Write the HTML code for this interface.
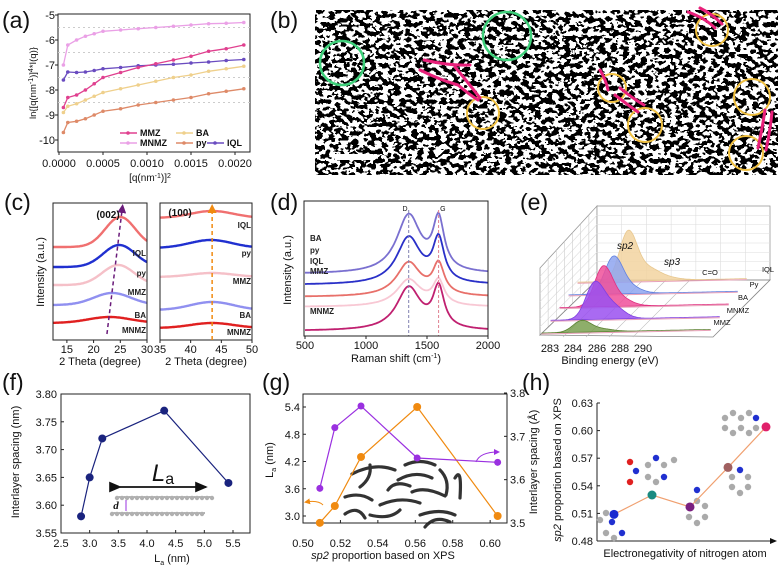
<!DOCTYPE html>
<html><head><meta charset="utf-8">
<style>
html,body{margin:0;padding:0;background:#fff;}
svg{display:block;font-family:"Liberation Sans",Arial,sans-serif;}
.tk{fill:#111;}
.tt{fill:#111;}
.pl{fill:#111;}
.lb{font-weight:bold;fill:#222;}
</style></head>
<body>
<svg id="fig" width="784" height="570" viewBox="0 0 784 570" xmlns="http://www.w3.org/2000/svg">
<defs>
<filter id="tex" x="0" y="0" width="100%" height="100%">
<feTurbulence type="fractalNoise" baseFrequency="0.17 0.22" numOctaves="2" seed="7"/>
<feColorMatrix type="matrix" values="1 0 0 0 0 1 0 0 0 0 1 0 0 0 0 0 0 0 0 1"/>
<feComponentTransfer><feFuncR type="discrete" tableValues="0 1"/><feFuncG type="discrete" tableValues="0 1"/><feFuncB type="discrete" tableValues="0 1"/><feFuncA type="table" tableValues="1 1"/></feComponentTransfer>
</filter>
<marker id="arrK" markerWidth="8" markerHeight="8" refX="6" refY="4" orient="auto"><path d="M0,1 L7,4 L0,7 z" fill="#111"/></marker>
<marker id="arrP" markerWidth="6" markerHeight="6" refX="4" refY="3" orient="auto"><path d="M0,0 L6,3 L0,6 z" fill="#6a1b7a"/></marker>
<marker id="arrO" markerWidth="6" markerHeight="6" refX="4" refY="3" orient="auto"><path d="M0,0 L6,3 L0,6 z" fill="#f08a10"/></marker>
<marker id="arrV" markerWidth="6" markerHeight="6" refX="4" refY="3" orient="auto"><path d="M0,0 L6,3 L0,6 z" fill="#9a30e0"/></marker>
</defs>

<g font-size="23">
<text class="pl" x="2" y="28">(a)</text>
<text class="pl" x="270" y="28">(b)</text>
<text class="pl" x="4" y="210">(c)</text>
<text class="pl" x="270" y="210">(d)</text>
<text class="pl" x="520" y="210">(e)</text>
<text class="pl" x="2" y="390">(f)</text>
<text class="pl" x="262" y="390">(g)</text>
<text class="pl" x="522" y="390">(h)</text>
</g>

<g id="pb">
<rect x="315" y="10" width="463" height="165" filter="url(#tex)"/>
<rect x="335" y="154" width="38" height="6" fill="#fff"/>
<circle cx="342" cy="63" r="22" fill="none" stroke="#3ecf7a" stroke-width="2.5"/>
<circle cx="507" cy="36" r="24" fill="none" stroke="#3ecf7a" stroke-width="2.5"/>
<g fill="none" stroke="#f0c040" stroke-width="2">
<circle cx="483" cy="113" r="16"/><circle cx="612" cy="88" r="14"/><circle cx="712" cy="30" r="16"/><circle cx="645" cy="125" r="17"/><circle cx="752" cy="97" r="18"/><circle cx="746" cy="153" r="17"/>
</g>
<g fill="none" stroke="#e8207a" stroke-width="3" stroke-linecap="round">
<path d="M424,60 Q450,66 470,65"/><path d="M420,70 Q440,80 458,85 Q470,95 478,100"/><path d="M455,67 Q466,80 480,98"/>
<path d="M688,12 Q705,18 715,28"/><path d="M700,8 Q712,14 722,24"/>
<path d="M600,70 Q606,80 608,90"/><path d="M615,95 Q628,105 638,112"/><path d="M620,88 Q632,98 644,105"/>
<path d="M765,110 Q762,130 758,148"/><path d="M772,112 Q770,132 766,150"/>
</g>
</g>

<g id="pa"></g>
<g id="pc"></g>
<g id="pd"></g>
<g id="pe"></g>
<g id="pf"></g>
<g id="pg"></g>
<g id="ph"></g>
</svg>

<script>
// ---------- DATA ----------
const aX = [0.00005,0.0001,0.0002,0.0003,0.0004,0.0005,0.0007,0.0009,0.0011,0.0013,0.0015,0.0017,0.0019,0.0021];
const aMNMZ = [-7.0,-6.2,-6.0,-5.85,-5.75,-5.65,-5.6,-5.55,-5.5,-5.45,-5.4,-5.35,-5.33,-5.3];
const aMMZ = [-8.7,-8.3,-8.2,-8.0,-7.75,-7.5,-7.3,-7.1,-6.95,-6.8,-6.65,-6.45,-6.35,-6.2];
const aIQL = [-7.6,-7.28,-7.3,-7.28,-7.22,-7.15,-7.1,-7.03,-7.0,-6.97,-6.92,-6.88,-6.82,-6.78];
const aBA = [-8.9,-8.65,-8.55,-8.4,-8.25,-8.1,-7.95,-7.8,-7.65,-7.5,-7.4,-7.25,-7.15,-7.05];
const aPy = [-9.7,-9.3,-9.25,-9.15,-9.0,-8.85,-8.75,-8.6,-8.5,-8.4,-8.3,-8.15,-8.05,-7.95];
const aYTicks = [-5,-6,-7,-8,-9,-10];
const aXTicks = [0,0.0005,0.001,0.0015,0.002];
const aXTickLabels = ["0.0000","0.0005","0.0010","0.0015","0.0020"];
const cNames = ["IQL","py","MMZ","BA","MNMZ"];
const c002Base = [93,73,55,35,17];
const c002Amp = [30,22,20,12,6];
const c002Ctr = [25.0,24.8,24.6,23.5,23.0];
const c002Wid = [2.8,3.0,3.0,3.5,4.0];
const c100Base = [122,92,63,30,12];
const c100Amp = [7,8,4,8,5];
const c100Ctr = [43.5,43.3,43.5,43.5,43.5];
const cLeftTicks = [15,20,25,30];
const cRightTicks = [35,40,45,50];
const dNames = ["BA","py","IQL","MMZ","MNMZ"];
const dBase = [62,51,39,29,5];
const dD = [58,47,34,27,43];
const dG = [50,42,30,24,40];
const dXTicks = [500,1000,1500,2000];
const eNames = ["MMZ","MNMZ","BA","Py","IQL"];
const eSp2E = [286.0,286.3,286.3,286.4,286.9];
const eSp2H = [11,32,37,34,48];
const eSp3E = [287.6,287.7,287.6,287.6,288.6];
const eSp3H = [3,15,9,8,12];
const fLa = [2.85,3.0,3.22,4.3,5.42];
const fD = [3.58,3.65,3.72,3.77,3.64];
const fXTicks = [2.5,3.0,3.5,4.0,4.5,5.0,5.5];
const fYTicks = [3.55,3.60,3.65,3.70,3.75,3.80];
const gSp2 = [0.509,0.517,0.531,0.561,0.604];
const gLa = [2.85,3.22,4.3,5.4,3.0];
const gD = [3.58,3.72,3.77,3.65,3.64];
const gXTicks = [0.50,0.52,0.54,0.56,0.58,0.60];
const gYTicks = [3.0,3.6,4.2,4.8,5.4];
const gY2Ticks = [3.5,3.6,3.7,3.8];
const hIdx = [0,1,2,3,4];
const hSp2 = [0.509,0.530,0.517,0.560,0.604];
const hYTicks = [0.48,0.51,0.54,0.57,0.60,0.63];

// ---------- HELPERS ----------
const NS="http://www.w3.org/2000/svg";
function mk(parent,tag,attrs){const e=document.createElementNS(NS,tag);for(const k in attrs)e.setAttribute(k,attrs[k]);parent.appendChild(e);return e;}
function lin(d0,d1,r0,r1){return v=>r0+(v-d0)*(r1-r0)/(d1-d0);}
function txt(p,x,y,s,cls,anchor,extra){
 const a={x:x,y:y,class:cls||'tk','text-anchor':anchor||'middle','font-size':(cls==='lb'?8:(cls==='tt'?11:11))};
 Object.assign(a,extra||{});
 const t=mk(p,'text',a);t.textContent=s;return t;}
function box(p,x0,y0,x1,y1){return mk(p,'rect',{x:x0,y:y0,width:x1-x0,height:y1-y0,fill:'none',stroke:'#222','stroke-width':1});}
function poly(pts){return pts.map((p,i)=>(i?'L':'M')+p[0].toFixed(1)+','+p[1].toFixed(1)).join(' ');}

// ---------- (a) ----------
(function(){
const g=document.getElementById('pa');
const X=lin(0,0.002,59,235), Y=lin(-5,-10,15,140);
box(g,58,14,250,152);
aYTicks.forEach(v=>{const t=txt(g,55,Y(v)+4,String(v),'tk','end');


mk(g,'line',{x1:58,x2:55,y1:Y(v),y2:Y(v),stroke:'#222'});
if(v>-10&&v<-5){mk(g,'line',{x1:58,x2:250,y1:Y(v+0.5),y2:Y(v+0.5),stroke:'#ccc','stroke-dasharray':'2,3'});}});
aXTicks.forEach((v,i)=>{const t=txt(g,X(v),167,aXTickLabels[i]);


mk(g,'line',{x1:X(v),x2:X(v),y1:152,y2:155,stroke:'#222'});});
const series=[["MNMZ",aMNMZ,"#eaa0e6"],["IQL",aIQL,"#6a4cc0"],["MMZ",aMMZ,"#e0408f"],["BA",aBA,"#efd08c"],["py",aPy,"#de8a68"]];
series.forEach(s=>{
 const p=mk(g,'path',{d:poly(aX.map((x,i)=>[X(x),Y(s[1][i])])),fill:'none',stroke:s[2],'stroke-width':1.3});
 
 
 aX.forEach((x,i)=>{const c=mk(g,'circle',{cx:X(x),cy:Y(s[1][i]),r:1.8,fill:s[2]});
 
 });
});
const leg=[["MMZ",120,136,"#e0408f"],["MNMZ",120,146,"#eaa0e6"],["BA",176,136,"#efd08c"],["py",176,146,"#de8a68"],["IQL",207,146,"#6a4cc0"]];
leg.forEach(l=>{mk(g,'line',{x1:l[1],x2:l[1]+17,y1:l[2]-3,y2:l[2]-3,stroke:l[3],'stroke-width':1.5});
 mk(g,'circle',{cx:l[1]+8,cy:l[2]-3,r:1.8,fill:l[3]});
 const t=txt(g,l[1]+20,l[2],l[0],'tk','start',{fill:l[3],'font-size':'9','font-weight':'bold'});
 
 });
const yt=txt(g,0,0,'','tt','middle',{transform:'translate(36,83) rotate(-90)','font-size':'9.5'});
yt.innerHTML='ln{[q(nm<tspan font-size="7" dy="-3">-1</tspan><tspan dy="3">)]</tspan><tspan font-size="7" dy="-3">4</tspan><tspan dy="3">*I(q)}</tspan>';


const xt=txt(g,150,181,'','tt','middle',{'font-size':'10'});
xt.innerHTML='[q(nm<tspan font-size="7" dy="-3">-1</tspan><tspan dy="3">)]</tspan><tspan font-size="7" dy="-3">2</tspan>';


})();

// ---------- (c) ----------
(function(){
const g=document.getElementById('pc');
const colors=["#f07070","#2030d0","#f5c0c8","#9090f0","#e02020"];
const XL=lin(12.4,30,53,147), XR=lin(35,50,160,252), Y=v=>340-v;
function curve(X,lo,hi,base,amp,c,w,col,name){
 const pts=[];for(let x=lo;x<=hi+1e-9;x+=(hi-lo)/120){pts.push([X(x),Y(base+amp*Math.exp(-((x-c)**2)/(2*w*w)))]);}
 const p=mk(g,'path',{d:poly(pts),fill:'none',stroke:col,'stroke-width':2.4});
 
 
}
cNames.forEach((n,i)=>{curve(XL,12.4,30,c002Base[i],c002Amp[i],c002Ctr[i],c002Wid[i],colors[i],n.toLowerCase()+'-002');
 curve(XR,35,50,c100Base[i],c100Amp[i],c100Ctr[i],3.5,colors[i],n.toLowerCase()+'-100');});
box(g,53,203,147,340);box(g,160,203,252,340);
cLeftTicks.forEach(v=>{txt(g,XL(v),353,String(v));mk(g,'line',{x1:XL(v),x2:XL(v),y1:340,y2:343,stroke:'#222'});});
cRightTicks.forEach(v=>{txt(g,XR(v),353,String(v));mk(g,'line',{x1:XR(v),x2:XR(v),y1:340,y2:343,stroke:'#222'});});
const lp=[[146,256],[146,276],[146,295],[146,318],[146,333]];
const rp=[[251,228],[251,256],[251,284],[251,318],[251,335]];
cNames.forEach((n,i)=>{const t=txt(g,lp[i][0],lp[i][1],n,'lb','end');
 
 
 const t2=txt(g,rp[i][0],rp[i][1],n,'lb','end');
 
 });
mk(g,'line',{x1:XL(22.5),y1:334,x2:XL(25.4),y2:207,stroke:'#6a1b7a','stroke-width':1.5,'stroke-dasharray':'4,3','marker-end':'url(#arrP)'});
mk(g,'line',{x1:XR(43.5),y1:340,x2:XR(43.5),y2:207,stroke:'#f08a10','stroke-width':1.5,'stroke-dasharray':'4,3','marker-end':'url(#arrO)'});
txt(g,108,218,'(002)','tk','middle',{'font-weight':'bold','font-size':'10'});
txt(g,180,216,'(100)','tk','middle',{'font-weight':'bold','font-size':'10'});
txt(g,0,0,'Intensity (a.u.)','tt','middle',{transform:'translate(44,272) rotate(-90)'});
txt(g,100,365,'2 Theta (degree)','tt');txt(g,206,365,'2 Theta (degree)','tt');
})();

// ---------- (d) ----------
(function(){
const g=document.getElementById('pd');
const colors=["#7a70d0","#2a30c8","#e8706a","#f8c8d4","#c02070"];
const X=lin(500,2000,305,488), Y=v=>336-v;
function L(x,c,w){return 1/(1+((x-c)/w)**2);}
dNames.forEach((n,i)=>{
 const pts=[];for(let x=500;x<=2000;x+=10){pts.push([X(x),Y(dBase[i]+dD[i]*L(x,1350,120)+dG[i]*L(x,1595,55))]);}
 const p=mk(g,'path',{d:poly(pts),fill:'none',stroke:colors[i],'stroke-width':1.8});
 
 
});
mk(g,'line',{x1:X(1350),x2:X(1350),y1:210,y2:336,stroke:'#8080b0','stroke-dasharray':'3,2'});
mk(g,'line',{x1:X(1595),x2:X(1595),y1:210,y2:336,stroke:'#e08090','stroke-dasharray':'3,2'});
txt(g,X(1320),211,'D','tk','middle',{'font-size':'7'});txt(g,X(1630),211,'G','tk','middle',{'font-size':'7'});
box(g,304,201,488,336);
dXTicks.forEach(v=>{txt(g,X(v),349,String(v));mk(g,'line',{x1:X(v),x2:X(v),y1:336,y2:339,stroke:'#222'});});
const ly=[241,253,264,274,314];
dNames.forEach((n,i)=>{const t=txt(g,310,ly[i],n,'lb','start');
 
 });
txt(g,0,0,'Intensity (a.u.)','tt','middle',{transform:'translate(291,270) rotate(-90)'});
const xt=txt(g,396,362,'','tt');xt.innerHTML='Raman shift (cm<tspan font-size="7" dy="-4">-1</tspan><tspan dy="4">)</tspan>';
})();

// ---------- (e) ----------
(function(){
const g=document.getElementById('pe');
mk(g,'path',{d:'M540,268 L597,206 L597,280 L540,335 Z',fill:'#fff',stroke:'#999','stroke-width':0.8});
mk(g,'rect',{x:597,y:206,width:173,height:74,fill:'#fff',stroke:'#999','stroke-width':0.8});
for(let i=1;i<8;i++){const y=206+i*74/8;mk(g,'line',{x1:597,x2:770,y1:y,y2:y,stroke:'#ddd','stroke-width':0.6});
 mk(g,'line',{x1:540,x2:597,y1:268+i*8.4,y2:206+i*74/8,stroke:'#ddd','stroke-width':0.6});}
for(let i=1;i<7;i++){const x=597+i*173/7;mk(g,'line',{x1:x,x2:x,y1:206,y2:280,stroke:'#ddd','stroke-width':0.6});
 const xl=540+i*57/7;mk(g,'line',{x1:xl,x2:xl,y1:268-i*62/7,y2:335-i*55/7,stroke:'#ccc','stroke-width':0.6});}
mk(g,'path',{d:'M540,335 L597,280 L770,280 L713,337 Z',fill:'none',stroke:'#888','stroke-width':0.8});
[620,643,666,690].forEach(x=>mk(g,'line',{x1:x-57,y1:337,x2:x,y2:280,stroke:'#bbb','stroke-width':0.6}));
const fills=["#7aa050","#9a50f0","#f0509a","#8ea4f0","#f2d3a0"];
const strokes=["#5a8030","#8040e0","#e03080","#6080e0","#e8c890"];
const EX=E=>573+(E-284)*11.75;
for(let r=4;r>=0;r--){
 const dx=9*r, dy=-12.7*r;
 const pts=[];
 for(let E=282.6;E<=297;E+=0.1){
  const h=eSp2H[r]*Math.exp(-((E-eSp2E[r])**2)/(2*0.75*0.75))+eSp3H[r]*Math.exp(-((E-eSp3E[r])**2)/(2*1.0*1.0))+(r==4?2*Math.exp(-((E-290.5)**2)/2):0);
  pts.push([EX(E)+dx-15, 333+dy-(E-282.6)*0.25-h]);
 }
 const base=[EX(297)+dx-15,333+dy-(297-282.6)*0.25],base0=[EX(282.6)+dx-15,333+dy];
 const p=mk(g,'path',{d:poly(pts)+' L'+base[0]+','+base[1]+' L'+base0[0]+','+base0[1]+' Z',fill:fills[r],'fill-opacity':0.85,stroke:strokes[r],'stroke-width':0.8});
 
 
 mk(g,'line',{x1:base0[0],y1:base0[1]+1,x2:base[0],y2:base[1]+1,stroke:'#e8a0b8','stroke-width':1});
}
const lpos=[[722,325],[738,313],[743,300],[754,287],[768,272]];
eNames.forEach((n,i)=>{const t=txt(g,lpos[i][0],lpos[i][1],n,'tk','middle',{'font-size':'7.5',fill:'#444'});
 
 });
txt(g,625,249,'sp2','tk','middle',{'font-style':'italic','font-size':'10'});
txt(g,672,265,'sp3','tk','middle',{'font-style':'italic','font-size':'10'});
txt(g,710,275,'C=O','tk','middle',{'font-size':'7.5',fill:'#444'});
[["283",550],["284",573],["286",597],["288",620],["290",643]].forEach(t=>txt(g,t[1],352,t[0]));
txt(g,610,364,'Binding energy (eV)','tt');
})();

// ---------- (f) ----------
(function(){
const g=document.getElementById('pf');
const X=lin(2.5,5.5,61,233), Y=lin(3.55,3.80,533,394);
box(g,61,394,250,533);
fXTicks.forEach(v=>{txt(g,X(v),547,v.toFixed(1));mk(g,'line',{x1:X(v),x2:X(v),y1:533,y2:530,stroke:'#222'});});
fYTicks.forEach(v=>{txt(g,57,Y(v)+4,v.toFixed(2),'tk','end');mk(g,'line',{x1:61,x2:64,y1:Y(v),y2:Y(v),stroke:'#222'});});
const p=mk(g,'path',{d:poly(fLa.map((x,i)=>[X(x),Y(fD[i])])),fill:'none',stroke:'#1a237e','stroke-width':1.2});


fLa.forEach((x,i)=>{const c=mk(g,'circle',{cx:X(x),cy:Y(fD[i]),r:4,fill:'#1a237e'});
 
 });
mk(g,'line',{x1:120,y1:487,x2:206,y2:487,stroke:'#111','stroke-width':1.8,'marker-end':'url(#arrK)','marker-start':'url(#arrK)'});
txt(g,163,481,'','tt','middle',{'font-size':'24'}).innerHTML='<tspan font-style="italic">L</tspan><tspan font-size="16" dy="3">a</tspan>';
[[117,497,212],[112,513,205]].forEach(r=>{mk(g,'line',{x1:r[0],x2:r[2],y1:r[1],y2:r[1],stroke:'#999','stroke-width':1.5});
 for(let x=r[0];x<=r[2];x+=5){mk(g,'circle',{cx:x,cy:r[1]+((x/5)%2?1:-1),r:2.2,fill:((x/5)%4==0)?'#8fdc3a':((x/5)%7==0?'#e04040':'#b0b0b0')});}});
mk(g,'line',{x1:126,x2:126,y1:500,y2:511,stroke:'#9a30e0','stroke-width':1});
txt(g,116,509,'d','tk','middle',{'font-style':'italic','font-weight':'bold','font-family':'Liberation Serif'});
txt(g,0,0,'Interlayer spacing (nm)','tt','middle',{transform:'translate(19,462) rotate(-90)'});
txt(g,172,562,'','tt').innerHTML='L<tspan font-size="7" dy="3">a</tspan><tspan dy="-3"> (nm)</tspan>';
})();

// ---------- (g) ----------
(function(){
const g=document.getElementById('pg');
const X=lin(0.50,0.609,303,507), Y=lin(3.0,5.4,516,407), Y2=lin(3.5,3.8,523,393);
const sq=["M352,474 Q375,462 395,470","M360,487 Q372,478 370,465","M345,497 Q360,492 372,500","M380,505 Q400,496 420,503","M398,480 Q415,470 432,478","M412,492 Q425,486 445,496","M370,515 Q390,520 400,510","M420,515 Q440,508 455,515","M440,470 Q450,480 446,495","M455,478 Q462,466 460,498","M405,465 Q420,458 435,465","M388,490 Q395,480 410,486","M345,514 Q358,505 365,518","M425,527 Q435,515 450,522"];
sq.forEach(d=>mk(g,'path',{d:d,fill:'none',stroke:'#333','stroke-width':3.2,'stroke-linecap':'round'}));
box(g,303,394,507,523);
gXTicks.forEach(v=>{txt(g,X(v),547,v.toFixed(2));mk(g,'line',{x1:X(v),x2:X(v),y1:523,y2:520,stroke:'#222'});});
gYTicks.forEach(v=>{txt(g,300,Y(v)+4,v.toFixed(1),'tk','end');mk(g,'line',{x1:303,x2:306,y1:Y(v),y2:Y(v),stroke:'#222'});});
gY2Ticks.forEach(v=>{txt(g,510,Y2(v)+4,v.toFixed(1),'tk','start');mk(g,'line',{x1:507,x2:504,y1:Y2(v),y2:Y2(v),stroke:'#222'});});
const po=mk(g,'path',{d:poly(gSp2.map((x,i)=>[X(x),Y(gLa[i])])),fill:'none',stroke:'#f08a10','stroke-width':1.2});


const pp=mk(g,'path',{d:poly(gSp2.map((x,i)=>[X(x),Y2(gD[i])])),fill:'none',stroke:'#9a30e0','stroke-width':1.2});


gSp2.forEach((x,i)=>{const c=mk(g,'circle',{cx:X(x),cy:Y(gLa[i]),r:4,fill:'#f08a10'});
 
 
 const c2=mk(g,'circle',{cx:X(x),cy:Y2(gD[i]),r:3.5,fill:'#9a30e0'});
 
 });
mk(g,'path',{d:'M323,505 Q318,500 306,502',fill:'none',stroke:'#f08a10','stroke-width':1,'marker-end':'url(#arrO)'});
mk(g,'path',{d:'M476,462 Q480,452 498,452',fill:'none',stroke:'#9a30e0','stroke-width':1,'marker-end':'url(#arrV)'});
txt(g,0,0,'','tt','middle',{transform:'translate(273,460) rotate(-90)'}).innerHTML='L<tspan font-size="7" dy="3">a</tspan><tspan dy="-3"> (nm)</tspan>';
txt(g,0,0,'Interlayer spacing (Å)','tt','middle',{transform:'translate(537,462) rotate(-90)'});
txt(g,383,559,'','tt').innerHTML='<tspan font-style="italic">sp2</tspan> proportion based on XPS';
})();

// ---------- (h) ----------
(function(){
const g=document.getElementById('ph');
const X=lin(0,4,614,766), Y=lin(0.48,0.63,541,403);
mk(g,'line',{x1:597,x2:597,y1:403,y2:541,stroke:'#222'});
mk(g,'line',{x1:597,x2:776,y1:541,y2:541,stroke:'#222','marker-end':'url(#arrK)'});
hYTicks.forEach(v=>{txt(g,593,Y(v)+4,v.toFixed(2),'tk','end');mk(g,'line',{x1:597,x2:600,y1:Y(v),y2:Y(v),stroke:'#222'});});
const atoms=[[606,513,'#aaa'],[612,522,'#2030d0'],[606,533,'#aaa'],[614,538,'#aaa'],[622,533,'#2030d0'],[600,520,'#aaa'],
[648,465,'#aaa'],[656,458,'#2030d0'],[664,465,'#aaa'],[664,477,'#2030d0'],[656,482,'#aaa'],[648,477,'#aaa'],[674,460,'#aaa'],[636,471,'#2030d0'],[630,462,'#e02020'],[630,482,'#e02020'],
[697,501,'#aaa'],[705,506,'#aaa'],[705,517,'#aaa'],[697,523,'#aaa'],[689,517,'#aaa'],[689,506,'#aaa'],[697,490,'#2030d0'],
[740,470,'#2030d0'],[748,477,'#aaa'],[748,487,'#aaa'],[740,493,'#aaa'],[732,487,'#aaa'],[732,477,'#aaa'],
[725,418,'#aaa'],[733,413,'#aaa'],[741,418,'#aaa'],[741,428,'#aaa'],[733,433,'#aaa'],[725,428,'#aaa'],[749,413,'#aaa'],[756,418,'#2030d0'],[756,428,'#aaa'],[749,433,'#aaa']];
atoms.forEach(a=>mk(g,'circle',{cx:a[0],cy:a[1],r:3.2,fill:a[2]}));
const pl=mk(g,'path',{d:poly(hIdx.map((x,i)=>[X(x),Y(hSp2[i])])),fill:'none',stroke:'#f0a070','stroke-width':1.2});


const hc=["#1a2ad0","#1a8a80","#7a2080","#a06060","#e0206a"];
hIdx.forEach((x,i)=>{const c=mk(g,'circle',{cx:X(x),cy:Y(hSp2[i]),r:4.5,fill:hc[i]});
 
 });
txt(g,0,0,'','tt','middle',{transform:'translate(561,470) rotate(-90)'}).innerHTML='<tspan font-style="italic">sp2</tspan> proportion based on XPS';
txt(g,685,557,'Electronegativity of nitrogen atom','tt');
})();
</script>
</body></html>
